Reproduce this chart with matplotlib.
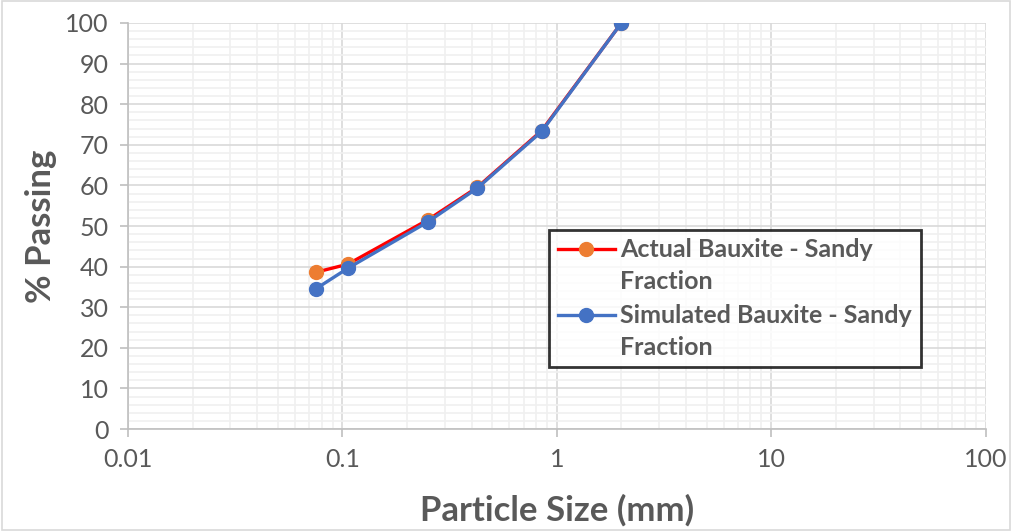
#! /usr/bin/env python3

import numpy as np
import matplotlib.pyplot as plt
from matplotlib.legend_handler import HandlerLine2D
from matplotlib.patches import Rectangle
from matplotlib.ticker import FixedLocator, LogLocator, MultipleLocator, NullFormatter

size_mm = [0.075, 0.106, 0.25, 0.425, 0.85, 2.0]
actual_passing = [38.6, 40.6, 51.5, 59.5, 73.5, 100.0]
simulated_passing = [34.5, 39.6, 51.0, 59.3, 73.3, 100.0]

x_ticks = [0.01, 0.1, 1, 10, 100]
x_tick_labels = ["0.01", "0.1", "1", "10", "100"]


class FirstLineHandler(HandlerLine2D):
    # legend handle sits beside the first line of a two-line label
    def create_artists(self, legend, orig_handle, xdescent, ydescent, width, height, fontsize, trans):
        artists = super().create_artists(legend, orig_handle, xdescent, ydescent,
                                         width, height, fontsize, trans)
        for a in artists:
            a.set_ydata(np.asarray(a.get_ydata()) + 0.68 * fontsize)
        return artists


plt.rcParams["font.family"] = ["Lato", "DejaVu Sans"]

fig = plt.figure(figsize=(10.12, 5.31), dpi=100)
ax = fig.add_axes([0.1265, 0.192, 0.8475, 0.7647])

ax.set_xscale("log")
ax.set_xlim(0.01, 100)
ax.set_ylim(0, 100)

ax.xaxis.set_major_locator(FixedLocator(x_ticks))
ax.xaxis.set_minor_locator(LogLocator(base=10, subs=range(2, 10), numticks=20))
ax.xaxis.set_minor_formatter(NullFormatter())
ax.set_xticklabels(x_tick_labels)
ax.yaxis.set_major_locator(MultipleLocator(10))
ax.yaxis.set_minor_locator(MultipleLocator(2))

ax.grid(which="minor", color="#f0f0f0", linewidth=1.2)
ax.grid(which="major", color="#d9d9d9", linewidth=1.2)
ax.set_axisbelow(True)

for side in ("top", "right"):
    ax.spines[side].set_visible(False)
ax.spines["left"].set_color("#bfbfbf")
ax.spines["bottom"].set_color("#bfbfbf")
ax.spines["left"].set_linewidth(1.2)
ax.spines["bottom"].set_linewidth(1.2)

ax.tick_params(which="major", axis="y", length=6, color="#bfbfbf", width=1.2,
               labelsize=18, labelcolor="#595959", pad=8)
ax.tick_params(which="major", axis="x", length=6, color="#bfbfbf", width=1.2,
               labelsize=18, labelcolor="#595959", pad=8)
ax.tick_params(which="minor", length=0)

line_actual, = ax.plot(size_mm, actual_passing, color="#ff0000", linewidth=2.4,
                       marker="o", markersize=10, markerfacecolor="#ed7d31", markeredgecolor="#ed7d31",
                       label="Actual Bauxite - Sandy\nFraction", zorder=3)
line_sim, = ax.plot(size_mm, simulated_passing, color="#4472c4", linewidth=2.4,
                    marker="o", markersize=10, markerfacecolor="#4472c4", markeredgecolor="#4472c4",
                    label="Simulated Bauxite - Sandy\nFraction", zorder=4)

ax.set_xlabel("Particle Size (mm)", fontsize=25, fontweight="bold", color="#595959", labelpad=16)
ax.set_ylabel("% Passing", fontsize=25, fontweight="bold", color="#595959", labelpad=6)

leg = ax.legend(loc="upper left", bbox_to_anchor=(0.476, 0.522), fontsize=18,
                frameon=True, fancybox=False, edgecolor="black", handlelength=2.3,
                labelspacing=0.45, borderpad=0.35, handletextpad=0.2,
                handler_map={line_actual: FirstLineHandler(), line_sim: FirstLineHandler()})
leg.get_frame().set_linewidth(2)
for text in leg.get_texts():
    text.set_fontweight("bold")
    text.set_color("#595959")
    text.set_linespacing(1.45)

fig.patches.append(Rectangle((0.002, 0.002), 0.996, 0.996, transform=fig.transFigure,
                             fill=False, edgecolor="#d9d9d9", linewidth=1.2))

fig.savefig("out.png", dpi=100)
